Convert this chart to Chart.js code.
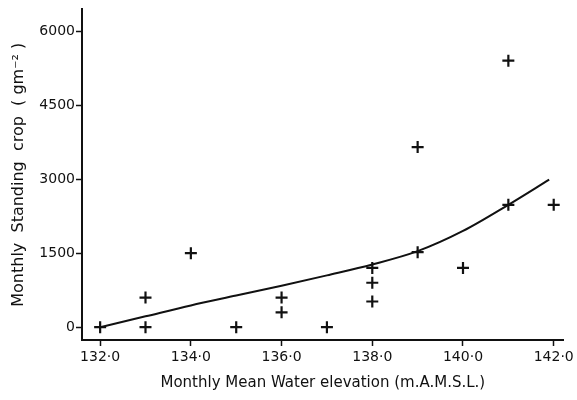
<!DOCTYPE html>
<html lang="en">
<head>
  <meta charset="UTF-8" />
  <title>Standing crop vs water elevation</title>
  <script src="https://cdn.jsdelivr.net/npm/chart.js"></script>
  <style>
    body {
      margin: 0;
      background: #fff;
    }
    .wrap {
      width: 577px;
      height: 400px;
    }
  </style>
</head>
<body>
  <div class="wrap"><canvas id="chart"></canvas></div>

  <script>
    // observed points (monthly)
    const elevation = [132, 133, 133, 134, 135, 136, 136, 137, 138, 138, 138, 139, 139, 140, 141, 141, 142];
    const crop      = [0, 600, 0, 1500, 0, 600, 300, 0, 1200, 900, 520, 1520, 3650, 1200, 5400, 2480, 2480];

    // fitted curve
    const curveX = [132, 133, 134, 135, 136, 137, 138, 139, 140, 141, 141.9];
    const curveY = [0, 220, 440, 640, 840, 1050, 1270, 1540, 1950, 2480, 2990];

    const xTicks = [132, 134, 136, 138, 140, 142];
    const yTicks = [0, 1500, 3000, 4500, 6000];

    const tickFont = { family: 'DejaVu Sans', size: 14 };
    const titleFont = { family: 'DejaVu Sans', size: 15 };
    const ink = '#111';

    new Chart(document.getElementById('chart'), {
      type: 'scatter',
      data: {
        datasets: [
          {
            label: 'curve',
            type: 'line',
            data: curveX.map((x, i) => ({ x, y: curveY[i] })),
            borderColor: ink,
            borderWidth: 2,
            pointRadius: 0,
            cubicInterpolationMode: 'monotone',
            fill: false
          },
          {
            label: 'observed',
            data: elevation.map((x, i) => ({ x, y: crop[i] })),
            pointStyle: 'cross',
            pointRadius: 6,
            borderWidth: 2.2,
            borderColor: ink,
            backgroundColor: ink
          }
        ]
      },
      options: {
        responsive: true,
        maintainAspectRatio: false,
        animation: false,
        layout: { padding: { top: 5, right: 12, left: 0, bottom: 0 } },
        plugins: {
          legend: { display: false },
          tooltip: { enabled: false }
        },
        scales: {
          x: {
            type: 'linear',
            min: 131.6,
            max: 142.22,
            afterBuildTicks: s => { s.ticks = xTicks.map(v => ({ value: v })); },
            afterFit: s => { s.height = 60; },
            ticks: {
              color: ink,
              font: tickFont,
              padding: 3,
              callback: v => v.toFixed(1).replace('.', '·')
            },
            grid: {
              drawOnChartArea: false,
              drawTicks: true,
              tickLength: 6,
              tickWidth: 1.5,
              tickColor: ink
            },
            border: { color: ink, width: 2 },
            title: {
              display: true,
              text: 'Monthly Mean Water elevation (m.A.M.S.L.)',
              color: ink,
              font: titleFont,
              padding: { top: 0, bottom: 8 }
            }
          },
          y: {
            min: -260,
            max: 6440,
            afterBuildTicks: s => { s.ticks = yTicks.map(v => ({ value: v })); },
            afterFit: s => { s.width = 82; },
            ticks: {
              color: ink,
              font: tickFont,
              padding: 1,
              callback: v => String(v)
            },
            grid: {
              drawOnChartArea: false,
              drawTicks: true,
              tickLength: 6,
              tickWidth: 1.5,
              tickColor: ink
            },
            border: { color: ink, width: 2 },
            title: {
              display: true,
              text: 'Monthly  Standing  crop  ( gm\u207B\u00B2 )',
              color: ink,
              font: { family: 'DejaVu Sans', size: 16 },
              padding: { top: 9, bottom: 0 }
            }
          }
        }
      }
    });
  </script>
</body>
</html>
